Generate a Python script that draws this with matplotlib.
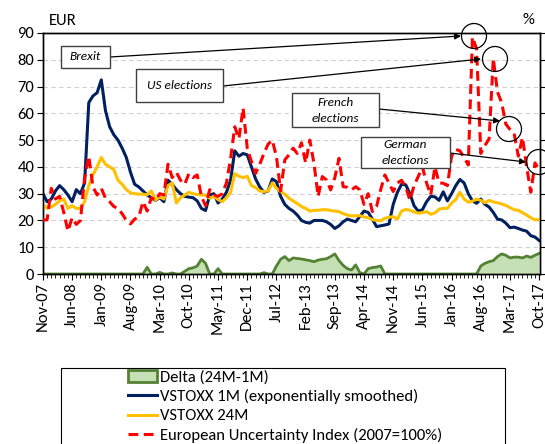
import matplotlib
matplotlib.use("Agg")
import matplotlib.pyplot as plt
import numpy as np
from matplotlib import font_manager
from matplotlib.patches import Rectangle, Ellipse, FancyArrowPatch, Patch
from matplotlib.lines import Line2D

# ---------------- data ----------------
tick_labels = ["Nov-07", "Jun-08", "Jan-09", "Aug-09", "Mar-10", "Oct-10", "May-11",
               "Dec-11", "Jul-12", "Feb-13", "Sep-13", "Apr-14", "Nov-14", "Jun-15",
               "Jan-16", "Aug-16", "Mar-17", "Oct-17"]

vstoxx_1m = [30, 27, 28, 31, 33, 31.5, 29.5, 27, 31.5, 30,
             34, 64, 66.5, 67.7, 72.5, 61, 55, 52, 50, 47,
             43.5, 38, 33.5, 32.5, 31, 29.5, 28.5, 27.5, 28.5, 27,
             35, 33.5, 31.5, 30, 29, 28.7, 28.5, 27.3, 24.5, 23.7,
             29.5, 30, 26.5, 28, 30.5, 35, 46, 44, 45, 44.5,
             40, 35.5, 32.5, 30.5, 31, 35.5, 34.5, 29, 26, 24.5,
             23.5, 22, 20, 19.3, 19, 20, 20, 20, 19.5, 18.5,
             17, 18, 19.5, 20.5, 20, 19.5, 21.5, 23.5, 23, 20.5,
             17.7, 18, 18.3, 18.7, 26, 30.5, 33.5, 33.3, 30, 25.5,
             23.5, 24, 27, 29, 28.8, 27.5, 30.7, 27.3, 30, 33,
             35.3, 34, 30, 27.3, 26.4, 28, 26, 25, 23, 20.5,
             20.2, 19, 17.3, 17.5, 17, 16.4, 16, 14.3, 13.8, 12.5]

vstoxx_24m = [26, 24.5, 25, 26, 27.3, 28, 24.5, 25.5, 24.5, 24.5,
              27, 33, 37, 40, 43.5, 41, 40, 39, 35, 33.5,
              31.5, 30.3, 30, 29.8, 29.8, 29.6, 31, 27.6, 28.8, 28,
              33, 34, 26.5, 28.5, 29.5, 30.5, 30, 29.7, 29.5, 29.5,
              28.3, 29, 27.8, 27, 28.5, 30.5, 37.5, 36.5, 36, 36.5,
              33, 32.3, 31, 30.8, 31, 34, 32, 30.8, 29.8, 28.3,
              27.3, 26.3, 25.2, 24.5, 23.5, 23.8, 23.8, 24, 24, 23.7,
              23.5, 23.3, 22.5, 22, 21.7, 21.7, 21.8, 21.3, 21, 20.3,
              20, 19.9, 20.8, 21.2, 21.4, 20.5, 23.5, 24.1, 23.8, 23.2,
              22.7, 22.9, 23.3, 22.3, 22.8, 24.2, 24.5, 24.5, 26.5, 27.8,
              30.5, 28, 26.8, 27.2, 28, 27.5, 26.6, 27.5, 26.9, 26.6,
              26.2, 25.6, 24.8, 24, 23.8, 22.9, 22, 21, 20.2, 20.3]

eui = [20.2, 20.2, 32, 28, 29, 23, 16, 21, 18.5, 20,
       36, 44, 32.5, 29.5, 32, 28.3, 27, 25.2, 24.5, 22.5,
       20, 18.7, 20.5, 21.4, 27, 23.5, 28.5, 27.5, 30, 29.5,
       41, 36, 38, 35, 33.5, 37.5, 36, 37, 29, 25.5,
       31.5, 29.5, 29, 30, 34, 43, 55, 50.5, 62, 47,
       42, 37.6, 41, 45, 48.5, 50, 43.8, 31, 42.6, 44.5,
       47, 45, 49, 41.5, 50, 41.3, 29, 36.4, 35.1, 31.4,
       36, 43.2, 32.6, 32.4, 31.4, 32.6, 31.4, 26, 30, 23.3,
       25.2, 31.5, 37, 33.9, 30.8, 34, 35, 32.5, 27.6, 33,
       36.4, 40, 34, 29.5, 40, 34, 33.9, 33, 44, 46.5,
       46, 43.5, 40.7, 88.5, 84, 45, 48, 50.5, 80.5, 68,
       64, 56, 54, 52.5, 44, 51, 40, 30.5, 41.5, 39]

delta = [0] * 24 + \
        [0, 2.5, 0, 0, 0.6, 0, 0, 0.4, 0, 0,
         1, 2, 2.3, 3, 5.5, 4, 0, 0, 2, 0] + \
        [0] * 9 + \
        [0.5, 0, 0, 3, 5.5, 6.5, 5, 6, 5.8, 5.6,
         5.3, 5, 4.6, 5.2, 5.5, 5.7, 6.5, 7.5, 5, 3.2,
         2, 1.5, 3.4, 0.5, 0, 2, 2.4, 2.6, 3, 0] + \
        [0] * 22 + \
        [3, 4, 4.6, 5, 6.5, 7.5, 7, 6, 6.3, 6.3, 6, 6.7, 6.2, 7, 7.7]

series_labels = ["Delta (24M-1M)", "VSTOXX 1M (exponentially smoothed)",
                 "VSTOXX 24M", "European Uncertainty Index (2007=100%)"]

# ---------------- style ----------------
avail = {f.name for f in font_manager.fontManager.ttflist}
font = next(f for f in ["Carlito", "Calibri", "Lato", "Liberation Sans", "DejaVu Sans"] if f in avail)
plt.rcParams['font.family'] = [font, 'DejaVu Sans']

NAVY = "#002060"
YELLOW = "#FFC000"
RED = "#FF0000"
GFILL = "#C5E0B4"
GEDGE = "#548235"
LW = 2.2

W, H = 545, 444
fig = plt.figure(figsize=(W / 100, H / 100), dpi=100)

def fx(x):
    return x / W

def fy(y):
    return 1 - y / H

ax = fig.add_axes([fx(42.5), fy(274), fx(540) - fx(42.5), fy(33) - fy(274)])
x = np.arange(len(vstoxx_1m))

ax.fill_between(x, 0, delta, facecolor=GFILL, edgecolor="none", zorder=1)
ax.plot(x, delta, color=GEDGE, lw=2, zorder=2)
ax.plot(x, vstoxx_1m, color=NAVY, lw=LW, zorder=3)
ax.plot(x, vstoxx_24m, color=YELLOW, lw=LW, zorder=4)

ax.set_xlim(-0.1, len(x) - 0.8)
ax.set_ylim(0, 90)
ax.set_yticks(range(0, 91, 10))
ax.set_xticks(range(0, len(x), 7))
ax.set_xticklabels(tick_labels, rotation=90)
ax.set_xticks(range(len(x)), minor=True)
ax.tick_params(axis='x', which='major', direction='out', length=4, labelsize=12, pad=2)
ax.tick_params(axis='x', which='minor', direction='out', length=3)
ax.tick_params(axis='y', direction='out', length=4, labelsize=12, pad=2)
for yv in range(10, 90, 10):
    ax.axhline(yv, color="#D0D0D0", lw=0.8, ls=(0, (4, 3)), zorder=0)
for s in ax.spines.values():
    s.set_color("black")
    s.set_linewidth(1)

ax2 = ax.twinx()
ax2.plot(x, eui, color=RED, lw=LW, ls=(0, (3.2, 1.8)), zorder=5)
ax2.set_ylim(0, 90)
ax2.set_yticks(range(0, 91, 10))
ax2.set_yticklabels([])
ax2.tick_params(axis='y', direction='out', length=4)
for s in ax2.spines.values():
    s.set_color("black")
    s.set_linewidth(1)

fig.text(fx(49), fy(21), "EUR", fontsize=12, ha="left", va="center")
fig.text(fx(528), fy(20), "%", fontsize=12, ha="center", va="center")

# ---------------- annotations ----------------
boxes = [
    (61, 46, 110, 68, ["Brexit"]),
    (136, 69, 223, 102, ["US elections"]),
    (292, 93, 379, 127, ["French", "elections"]),
    (361, 137, 450, 168, ["German", "elections"]),
]
arrows = [((110, 57), (461, 36)), ((223, 86), (481, 59)),
          ((379, 109), (500, 121)), ((450, 153), (526, 162))]
circles = [(474, 36), (495, 59), (509, 129), (539, 162)]

for (a, b) in arrows:
    fig.add_artist(FancyArrowPatch((fx(a[0]), fy(a[1])), (fx(b[0]), fy(b[1])),
                                   transform=fig.transFigure, arrowstyle='-|>',
                                   mutation_scale=9, color="black", lw=0.9,
                                   shrinkA=0, shrinkB=0, zorder=10))
for (cx, cy) in circles:
    fig.add_artist(Ellipse((fx(cx), fy(cy)), 25 / W, 25 / H, transform=fig.transFigure,
                           facecolor="none", edgecolor="black", lw=0.9, zorder=10))
for (x0, y0, x1, y1, lines) in boxes:
    fig.add_artist(Rectangle((fx(x0), fy(y1)), fx(x1) - fx(x0), fy(y0) - fy(y1),
                             transform=fig.transFigure, facecolor="white",
                             edgecolor="#404040", lw=1, zorder=11))
    n = len(lines)
    cyc = (y0 + y1) / 2
    for i, t in enumerate(lines):
        yy = cyc + (i - (n - 1) / 2) * 16
        fig.text(fx((x0 + x1) / 2), fy(yy), t, fontsize=9.5, style="italic",
                 ha="center", va="center", zorder=12)

# ---------------- legend ----------------
fig.add_artist(Rectangle((fx(61), fy(470)), fx(505) - fx(61), fy(368) - fy(470),
                         transform=fig.transFigure, facecolor="white",
                         edgecolor="black", lw=0.8, zorder=1))
handles = [Patch(facecolor=GFILL, edgecolor=GEDGE, lw=2),
           Line2D([], [], color=NAVY, lw=LW),
           Line2D([], [], color=YELLOW, lw=LW),
           Line2D([], [], color=RED, lw=LW, ls=(0, (3.2, 1.8)))]
leg = fig.legend(handles, series_labels, loc="upper left",
                 bbox_to_anchor=(fx(128), fy(370)), frameon=False, fontsize=12,
                 borderpad=0, borderaxespad=0, handlelength=1.75, handletextpad=0.2,
                 labelspacing=0.27)
leg.set_zorder(2)

fig.savefig("out.png", dpi=100)
